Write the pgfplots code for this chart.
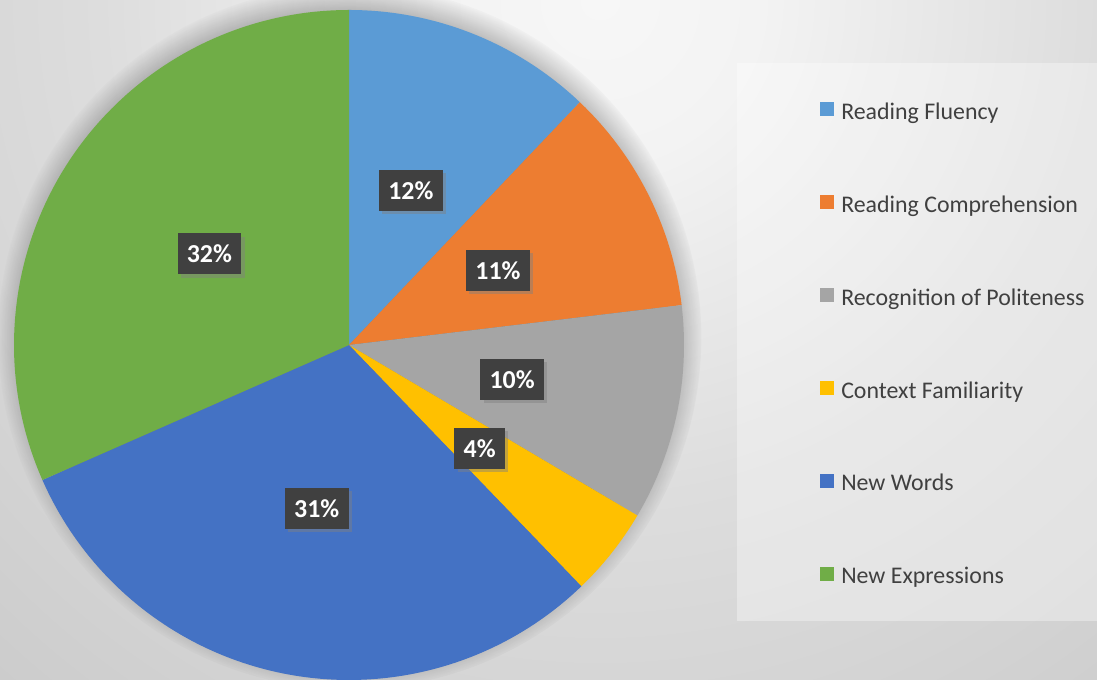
\documentclass[border=0pt]{standalone}
\usepackage{pgfplots}
\pgfplotsset{compat=1.18}
\usepackage{pgfplotstable}
\usepackage{fontspec}
\setmainfont{Carlito}
\usetikzlibrary{shadows,fadings}

\definecolor{cRF}{HTML}{5B9BD5}
\definecolor{cRC}{HTML}{ED7D31}
\definecolor{cRP}{HTML}{A5A5A5}
\definecolor{cCF}{HTML}{FFC000}
\definecolor{cNW}{HTML}{4472C4}
\definecolor{cNE}{HTML}{70AD47}
\definecolor{txt}{HTML}{404040}
\definecolor{lblbg}{HTML}{404040}
\definecolor{bg0}{HTML}{F7F7F7}
\definecolor{bg1}{HTML}{F3F3F3}
\definecolor{bg2}{HTML}{DDDDDD}
\definecolor{bg3}{HTML}{D5D5D5}
\definecolor{bg4}{HTML}{C8C8C8}
\pgfdeclareradialshading{bgshade}{\pgfpoint{0bp}{0bp}}{color(0bp)=(bg0); color(4bp)=(bg1); color(12.5bp)=(bg2); color(17.5bp)=(bg3); color(25bp)=(bg4); color(50bp)=(bg4)}

\pgfplotstableread[col sep=comma]{
name,value,col
Reading Fluency,12.1,cRF
Reading Comprehension,11.0,cRC
Recognition of Politeness,10.4,cRP
Context Familiarity,4.3,cCF
New Words,30.6,cNW
New Expressions,31.6,cNE
}\piedata

\newcommand\R{251.25pt}   % 335 px
\newcommand\Rl{125pt}     % label distance

\begin{document}
\begin{tikzpicture}
\useasboundingbox (0,0) rectangle (822.75pt,510pt);
\clip (0,0) rectangle (822.75pt,510pt);
\shade[shading=bgshade] (450pt,510pt) circle (750pt);
\begin{axis}[
  at={(0,0)}, anchor=south west,
  scale only axis, width=822.75pt, height=510pt,
  xmin=0, xmax=1097, ymin=0, ymax=680,
  axis lines=none, xtick=\empty, ytick=\empty,
  clip=false,
  legend image code/.code={\fill[#1, draw=none] (0pt,-1.5pt) rectangle (10.5pt,9pt);},
  legend style={at={(axis cs:737,617)}, anchor=north west,
    draw=none, fill=none,
    inner xsep=62.25pt, inner ysep=29pt,
    font=\fontsize{17.9}{21}\selectfont, text=txt,
    nodes={inner sep=0pt, text height=12pt, text depth=4pt},
    row sep=52.7pt, column sep=5.25pt},
  legend cell align=left,
]
% legend panel
\fill[white, opacity=0.35] (axis cs:737,59) rectangle (axis cs:1110,617);
% pie shadow
\fill[black, opacity=0.45, path fading=circle with fuzzy edge 15 percent]
  (axis cs:350,343) circle (264pt);
\pgfmathsetmacro\cum{0}
\pgfplotsforeachungrouped \i in {0,...,5}{%
  \pgfplotstablegetelem{\i}{value}\of\piedata \let\v\pgfplotsretval
  \pgfplotstablegetelem{\i}{col}\of\piedata \let\c\pgfplotsretval
  \pgfmathsetmacro\aS{90-3.6*\cum}%
  \pgfmathsetmacro\aE{90-3.6*(\cum+\v)}%
  \pgfmathsetmacro\cum{\cum+\v}%
  \edef\temp{\noexpand\fill[\c] (axis cs:349,335) -- ++(\aS:\R)
     arc[start angle=\aS, end angle=\aE, radius=\R] -- cycle;}%
  \temp
}
\pgfmathsetmacro\cum{0}
\pgfplotsforeachungrouped \i in {0,...,5}{%
  \pgfplotstablegetelem{\i}{value}\of\piedata \let\v\pgfplotsretval
  \pgfmathsetmacro\aM{90-3.6*(\cum+\v/2)}%
  \pgfmathsetmacro\cum{\cum+\v}%
  \pgfmathtruncatemacro\p{round(\v)}%
  \edef\temp{\noexpand\node[fill=lblbg, text=white,
     font=\noexpand\fontsize{19.4}{22}\noexpand\bfseries,
     inner xsep=7pt, minimum height=30.75pt,
     drop shadow={opacity=0.45, shadow xshift=2.5pt, shadow yshift=-2.5pt},
     shift={(\aM:\Rl)}] at (axis cs:349,335) {\p\noexpand\%};}%
  \temp
}
\addlegendimage{fill=cRF}\addlegendentry{Reading Fluency}
\addlegendimage{fill=cRC}\addlegendentry{Reading Comprehension}
\addlegendimage{fill=cRP}\addlegendentry{Recognition of Politeness}
\addlegendimage{fill=cCF}\addlegendentry{Context Familiarity}
\addlegendimage{fill=cNW}\addlegendentry{New Words}
\addlegendimage{fill=cNE}\addlegendentry{New Expressions}
\end{axis}
\end{tikzpicture}
\end{document}
